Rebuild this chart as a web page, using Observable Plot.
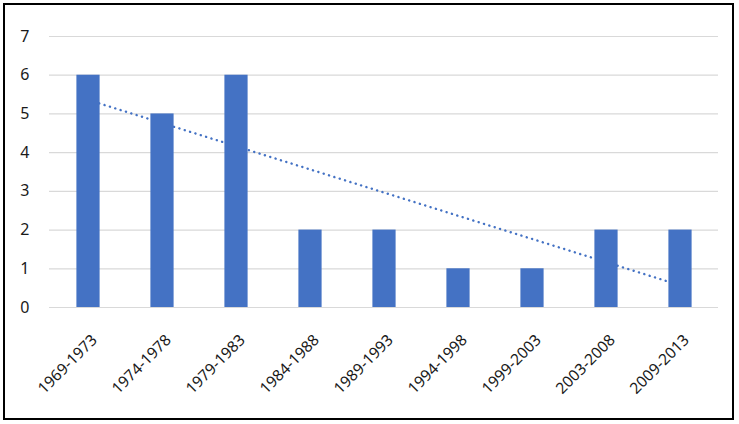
<!DOCTYPE html>
<html>
<head>
<meta charset="utf-8">
<script src="https://cdn.jsdelivr.net/npm/d3@7"></script>
<script src="https://cdn.jsdelivr.net/npm/@observablehq/plot@0.6"></script>
<style>
  html, body { margin: 0; padding: 0; background: #fff; }
  #wrap { position: relative; width: 739px; height: 424px; }
  #border { position: absolute; left: 3px; top: 3px; width: 727px; height: 413px; border: 2px solid #000; pointer-events: none; }
</style>
</head>
<body>
<div id="wrap"><div id="chart"></div><div id="border"></div></div>
<script>
const periods = ["1969-1973","1974-1978","1979-1983","1984-1988","1989-1993","1994-1998","1999-2003","2003-2008","2009-2013"];
const counts = [6, 5, 6, 2, 2, 1, 1, 2, 2];
const trendPeriods = ["1969-1973", "2009-2013"];
const trendValues = [5.36, 0.57];
const yTicks = [0, 1, 2, 3, 4, 5, 6, 7];

const bars = periods.map((p, i) => ({period: p, count: counts[i]}));
const trend = trendPeriods.map((p, i) => ({period: p, value: trendValues[i]}));

const chart = Plot.plot({
  width: 739,
  height: 424,
  marginLeft: 49,
  marginRight: 21,
  marginTop: 36,
  marginBottom: 117,
  style: {fontFamily: "'Noto Sans', sans-serif", fontSize: "14px", color: "#1a1a1a", background: "transparent"},
  x: {domain: periods, padding: 0, label: null},
  y: {domain: [0, 7], label: null},
  marks: [
    Plot.ruleY(yTicks, {stroke: "#d9d9d9", strokeWidth: 1.2}),
    Plot.lineY(trend, {x: "period", y: "value", stroke: "#4472c4", strokeWidth: 2.4, strokeLinecap: "round", strokeDasharray: "0.1,5.5"}),
    Plot.barY(bars, {x: "period", y: "count", fill: "#4472c4", insetLeft: 25.4, insetRight: 25.4}),
    Plot.axisY(yTicks, {tickSize: 0, tickPadding: 20, fontSize: 16, label: null}),
    Plot.axisX({tickSize: 0, tickPadding: 30, tickRotate: -45, fontSize: 15.5, label: null, dx: 6})
  ]
});
document.getElementById("chart").appendChild(chart);
</script>
</body>
</html>
